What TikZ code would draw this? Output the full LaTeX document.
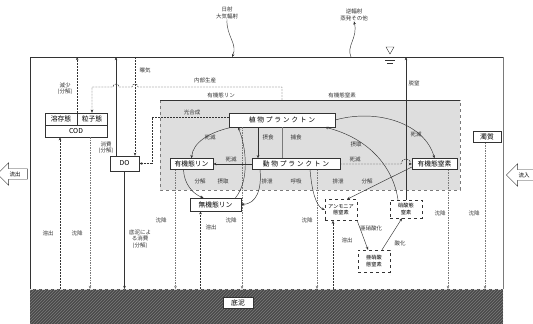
\documentclass[tikz,border=0pt]{standalone}
\usepackage{fontspec}
\setmainfont{Noto Sans CJK JP}
\usetikzlibrary{arrows.meta,shapes.arrows,patterns}
\definecolor{cA}{HTML}{333333}
\definecolor{cB}{HTML}{7a7a7a}
\definecolor{cC}{HTML}{dedede}
\definecolor{cD}{HTML}{4a4a4a}
\tikzset{
  box/.style={draw=cA,fill=white,inner sep=1pt,align=center,font=\fontsize{6.8}{7.5}\selectfont},
  wbox/.style={box,font=\fontsize{6.8}{7.5}\selectfont\addfontfeature{LetterSpace=25}},
  dbox/.style={box,dashed,font=\fontsize{5.2}{6.2}\selectfont},
  lbl/.style={inner sep=0.5pt,align=center,font=\fontsize{5.5}{6.3}\selectfont,text=cA},
  flow/.style={-{Stealth[length=3.2pt,width=2.6pt]},cA,line width=0.45pt},
  dflow/.style={flow,dash pattern=on 2pt off 1pt},
  sink/.style={flow,cB,dash pattern=on 1.5pt off 1pt},
  blk/.style={single arrow,draw=cA,fill=white,shape border rotate=180,
    single arrow head extend=6pt,inner sep=2.5pt,minimum height=30pt,
    font=\fontsize{5.5}{6}\selectfont},
}

\begin{document}
\begin{tikzpicture}[x=1pt,y=-1pt]
  \useasboundingbox (0,0) rectangle (533,324);
  \coordinate (surf) at (0,57);
  \coordinate (bed) at (0,289);
  \coordinate (sunhit) at (232,57);
  \coordinate (backfoot) at (351,57);
  \coordinate (gen) at (282,100);

  \fill[cD] (30,289) rectangle (503,324);
  \fill[pattern=north east lines,pattern color=cB] (30,289) rectangle (503,324);
  \draw[white!75!cB,dashed] (30,289) -- (503,289);
  \draw[cA] (30,289) -- (30,57) -- (503,57);
  \draw[cB] (503,57) -- (503,289);
  \fill[cC] (160,100) rectangle (460,190);
  \draw[cB,dashed] (160,100) rectangle (460,190);
  \draw[cA,line width=0.9pt] (160,100) -- (460,100);
  \draw[cA] (386,47) -- (394,47) -- (390,54) -- cycle;
  \draw[cA] (385,60) -- (395,60) (387,63) -- (393,63);

  \node[lbl] (lsun) at (227,13) {日射\\大気輻射};
  \node[lbl] (lback) at (354,15) {逆輻射\\蒸発その他};
  \node[box,minimum width=32,minimum height=12] (dis) at (61,119) {溶存態};
  \node[box,minimum width=30,minimum height=12] (par) at (92,119) {粒子態};
  \node[box,minimum width=62,minimum height=12] (cod) at (76,131) {COD};
  \node[box,minimum width=29,minimum height=15] (do) at (124.5,163.5) {DO};
  \node[wbox,minimum width=106,minimum height=14] (phy) at (282,120) {植物プランクトン};
  \node[wbox,minimum width=88,minimum height=11] (zoo) at (296,164) {動物プランクトン};
  \node[box,minimum width=43,minimum height=11] (op) at (191.5,164) {有機態リン};
  \node[box,minimum width=51,minimum height=13] (ip) at (215.5,204.5) {無機態リン};
  \node[box,minimum width=45,minimum height=11] (on) at (434.5,164) {有機態窒素};
  \node[dbox,minimum width=32,minimum height=21] (nh) at (341,210) {アンモニア\\態窒素};
  \node[dbox,minimum width=32,minimum height=18] (no3) at (406,209) {硝酸態\\窒素};
  \node[dbox,minimum width=32,minimum height=22] (no2) at (374,261) {亜硝酸\\態窒素};
  \node[box,minimum width=28,minimum height=11] (ss) at (487,137) {濁質};
  \node[box,minimum width=30,minimum height=11] (mud) at (238,303) {底泥};
  \node[blk] (outq) at (15,174) {流出};
  \node[blk] (inq) at (524,175) {流入};

  \draw[flow] (lsun.south) .. controls (226,36) and (238,44) .. (sunhit);
  \draw[flow] (backfoot) .. controls (346,46) and (358,38) .. (lback.south);
  \draw[dflow] (dis.north east) -- (dis.north east |- surf);
  \draw[flow] ([xshift=-8.5pt]do.north) -- ([xshift=-8.5pt]do.north |- surf);
  \draw[dflow] ([xshift=10.5pt]do.north |- surf) -- ([xshift=10.5pt]do.north);
  \draw[dflow] (gen) -- (282,87) -- (138,87) arc[start angle=0,end angle=-180,radius=3]
    -- (119,87) arc[start angle=0,end angle=-180,radius=3] -- (92,87) -- (par.north);
  \draw[dflow] ([yshift=3pt]phy.west) -- ++(-77,0) |- (do.east);
  \draw[flow] (do.south) -- (do.south |- bed);
  \draw[dflow] ([xshift=-16pt]cod.south |- bed) -- ([xshift=-16pt]cod.south);
  \draw[sink] ([xshift=14pt]cod.south) -- ([xshift=14pt]cod.south |- bed);
  \foreach \n/\s in {op/-16,phy/-40,zoo/21,on/13.5,ss/-2}
    \draw[sink] ([xshift=\s pt]\n.south) -- ([xshift=\s pt]\n.south |- bed);
  \foreach \n/\s in {ip/-15,nh/-8}
    \draw[dflow] ([xshift=\s pt]\n.south |- bed) -- ([xshift=\s pt]\n.south);

  \draw[flow] ([xshift=-50pt]phy.south) .. controls (210,132) and (193,142) .. (op.north);
  \draw[flow] (zoo.west) -- (op.east);
  \draw[flow] ([xshift=-8pt]op.south) .. controls (184,184) and (193,194) .. ([xshift=-12pt]ip.north);
  \draw[flow] ([xshift=20pt]ip.north) .. controls (250,180) and (246,146) .. ([xshift=-44pt]phy.south);
  \draw[flow] ([xshift=-36pt]zoo.south) .. controls (262,190) and (256,204) .. (ip.east);
  \draw[flow] ([xshift=-24pt]phy.south) -- ([xshift=-24pt]phy.south |- zoo.north);
  \draw[cB] (phy.south) -- (phy.south |- zoo.north);
  \draw[flow] (phy.east) .. controls (378,108) and (425,124) .. (on.north);
  \draw[flow] ([xshift=-8pt]no3.north) .. controls (393,166) and (368,138) .. ([xshift=43pt]phy.south);
  \draw[flow] ([xshift=14pt]zoo.south) .. controls (312,192) and (316,206) .. (nh.west);
  \draw[flow] ([yshift=-3pt]on.west) -- ([xshift=6pt]nh.north);
  \draw[dflow] (zoo.east) -- (401,164) arc[start angle=180,end angle=360,radius=5] -- (on.west);
  \draw[flow] (no3.north) -- (no3.north |- surf);
  \draw[flow] (nh.south east) -- ([xshift=-6pt]no2.north);
  \draw[flow] ([xshift=8pt]no2.north) -- ([xshift=-4pt]no3.south);

  \node[lbl] (lcod) at (65,89) {減少\\(分解)};
  \node[lbl] (ldo) at (106,148) {消費\\(分解)};
  \node[lbl] (lair) at (145,70) {曝気};
  \node[lbl] (lgen) at (205,80) {内部生産};
  \node[lbl] (lgp) at (221,95) {有機態リン};
  \node[lbl] (lgn) at (342,95) {有機態窒素};
  \node[lbl] (lps) at (192,112) {光合成};
  \node[lbl] (ldth1) at (210,137) {死滅};
  \node[lbl] (lgrz) at (268,137) {摂食};
  \node[lbl] (lprd) at (296,137) {捕食};
  \node[lbl] (ldth2) at (231,159) {死滅};
  \node[lbl] (lupn) at (356,144) {摂取};
  \node[lbl] (ldth3) at (416,134) {死滅};
  \node[lbl] (ldth4) at (355,159) {死滅};
  \node[lbl] (ldec1) at (200,181) {分解};
  \node[lbl] (lupp) at (223,181) {摂取};
  \node[lbl] (lexc1) at (267,181) {排泄};
  \node[lbl] (lres) at (296,181) {呼吸};
  \node[lbl] (lexc2) at (338,181) {排泄};
  \node[lbl] (ldec2) at (367,181) {分解};
  \node[lbl] (ldn) at (414,83) {脱窒};
  \node[lbl] (lnit1) at (371,228) {亜硝酸化};
  \node[lbl] (lnit2) at (400,243) {酸化};
  \node[lbl] (lbed) at (140,239) {底泥によ\\る消費\\(分解)};
  \foreach \p [count=\i] in {(77,233),(161,220),(231,220),(307,220),(440,213),(474,213)}
    \node[lbl] (lsnk\i) at \p {沈降};
  \foreach \p [count=\i] in {(48,233),(211,227),(347,240)}
    \node[lbl] (lrel\i) at \p {溶出};
\end{tikzpicture}
\end{document}
